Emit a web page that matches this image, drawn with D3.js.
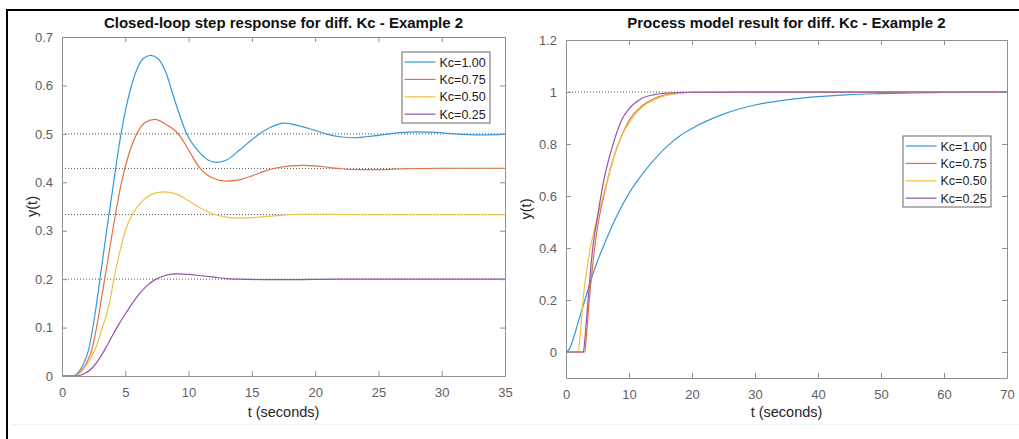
<!DOCTYPE html>
<html>
<head>
<meta charset="utf-8">
<script src="https://cdn.jsdelivr.net/npm/d3@7"></script>
<style>
  html, body { margin: 0; padding: 0; background: #fff; }
  svg { display: block; }
  text { font-family: "Liberation Sans", Arial, Helvetica, sans-serif; }
</style>
</head>
<body>
<svg id="fig" width="1019" height="439"></svg>
<script>
// ---- data -------------------------------------------------------------
const seriesNames = ["Kc=1.00", "Kc=0.75", "Kc=0.50", "Kc=0.25"];
const seriesColors = ["#3797d8", "#e2703f", "#f0c146", "#9651aa"];

// Closed-loop step response, [t, y]
const closedKc100 = [[0,0],[0.8,0],[1.2,0.005],[1.6,0.02],[2.1,0.054],[2.5,0.11],[3.0,0.2],[3.5,0.295],[4.0,0.385],[4.6,0.49],[5.2,0.57],[5.8,0.625],[6.4,0.655],[7.0,0.662],[7.6,0.655],[8.2,0.627],[8.9,0.57],[9.85,0.5],[11,0.458],[11.6,0.445],[12.2,0.441],[13,0.446],[14,0.466],[15,0.488],[16,0.507],[17,0.519],[17.5,0.522],[18.5,0.518],[20,0.507],[21,0.499],[22,0.494],[23,0.492],[24,0.494],[25,0.497],[26.5,0.502],[28,0.504],[29.5,0.503],[31,0.5],[33,0.498],[35,0.499]];
const closedKc075 = [[0,0],[1.0,0],[1.5,0.01],[2.0,0.03],[2.35,0.054],[2.8,0.11],[3.1,0.157],[3.5,0.22],[4.0,0.3],[4.7,0.4],[5.3,0.46],[5.9,0.5],[6.6,0.524],[7.35,0.53],[8.2,0.52],[9.2,0.5],[10,0.467],[10.9,0.429],[11.8,0.41],[13,0.4026],[14,0.405],[15,0.413],[16,0.423],[17,0.43],[18,0.434],[19,0.435],[20,0.434],[21,0.431],[22,0.428],[23.5,0.426],[25,0.426],[27,0.428],[30,0.429],[35,0.429]];
const closedKc050 = [[0,0],[1.0,0],[1.5,0.008],[2.0,0.025],[2.6,0.054],[3.2,0.1],[3.8,0.157],[4.1,0.2],[4.6,0.26],[5.0,0.3],[5.6,0.335],[6.3,0.36],[7.0,0.374],[8.0,0.38],[9,0.376],[10,0.362],[11,0.346],[12,0.334],[13,0.328],[14,0.326],[15,0.327],[16,0.329],[17,0.331],[18,0.333],[19,0.334],[21,0.334],[24,0.333],[35,0.333]];
const closedKc025 = [[0,0],[1.2,0],[1.8,0.005],[2.4,0.017],[3.0,0.038],[3.5,0.06],[4,0.084],[4.5,0.107],[5,0.128],[5.5,0.148],[6,0.166],[6.7,0.186],[7.35,0.199],[8.2,0.208],[9.06,0.211],[10,0.21],[11,0.207],[12,0.204],[13,0.201],[14,0.2],[16,0.199],[18,0.199],[22,0.2],[35,0.2]];
const closedSetpoints = [0.5, 0.4286, 0.3333, 0.2];

// Process model output, [t, y]
const modelKc100 = [[0,0],[0.5,0.01],[1,0.04],[2,0.12],[3,0.2],[4,0.28],[5,0.35],[6,0.41],[8,0.52],[10,0.61],[12,0.68],[14,0.74],[16,0.79],[18,0.83],[20,0.86],[25,0.915],[30,0.95],[35,0.97],[40,0.982],[45,0.99],[50,0.994],[55,0.997],[60,0.998],[70,1.0]];
const modelKc075 = [[0,0],[3.0,0],[3.2,0.05],[3.7,0.2],[4.5,0.39],[5,0.48],[6,0.6],[7,0.7],[8,0.78],[9,0.84],[10,0.89],[12,0.945],[14,0.975],[16,0.99],[18,0.996],[20,0.999],[70,1]];
const modelKc050 = [[0,0],[1.95,0],[2.2,0.05],[2.7,0.2],[3.8,0.39],[5,0.52],[6,0.61],[7,0.7],[8,0.78],[9,0.84],[10,0.88],[12,0.94],[14,0.97],[16,0.988],[18,0.995],[20,0.999],[70,1]];
const modelKc025 = [[0,0],[2.75,0],[3,0.05],[3.5,0.2],[4.2,0.39],[5,0.52],[6,0.66],[7,0.76],[8,0.84],[9,0.9],[10,0.935],[12,0.975],[14,0.99],[16,0.996],[20,0.999],[70,1]];
const modelSetpoints = [1];

// axis ticks
const leftXTicks = [0, 5, 10, 15, 20, 25, 30, 35];
const leftYTicks = [0, 0.1, 0.2, 0.3, 0.4, 0.5, 0.6, 0.7];
const rightXTicks = [0, 10, 20, 30, 40, 50, 60, 70];
const rightYTicks = [0, 0.2, 0.4, 0.6, 0.8, 1, 1.2];

// ---- drawing ----------------------------------------------------------
const svg = d3.select("#fig");

// outer frame
svg.append("line").attr("x1", 7).attr("x2", 1019).attr("y1", 10).attr("y2", 10)
  .attr("stroke", "#000").attr("stroke-width", 2);
svg.append("line").attr("x1", 7).attr("x2", 7).attr("y1", 9).attr("y2", 439)
  .attr("stroke", "#000").attr("stroke-width", 2);
svg.append("line").attr("x1", 12).attr("x2", 1019).attr("y1", 424.5).attr("y2", 424.5)
  .attr("stroke", "#eef1f7").attr("stroke-width", 1);

const axisColor = "#8f8f8f";
const tickTextColor = "#5e5e5e";

function panel(cfg) {
  const g = svg.append("g");
  const x = d3.scaleLinear().domain(cfg.xDomain).range([cfg.left, cfg.right]);
  const y = d3.scaleLinear().domain(cfg.yDomain).range([cfg.bottom, cfg.top]);

  // reference levels
  cfg.setpoints.forEach(v => {
    g.append("line")
      .attr("x1", x(cfg.xDomain[0])).attr("x2", x(cfg.xDomain[1]))
      .attr("y1", y(v)).attr("y2", y(v))
      .attr("stroke", "#555").attr("stroke-width", 1)
      .attr("stroke-dasharray", "1,2");
  });

  // curves
  const line = d3.line().x(d => x(d[0])).y(d => y(d[1])).curve(d3.curveMonotoneX);
  cfg.series.forEach((s, i) => {
    g.append("path").datum(s)
      .attr("fill", "none")
      .attr("stroke", seriesColors[i])
      .attr("stroke-width", 1.2)
      .attr("d", line);
  });

  // axes (ticks pointing inward, box on)
  const tk = 5;
  const styleAxis = (sel) => {
    sel.select(".domain").attr("stroke", axisColor);
    sel.selectAll(".tick line").attr("stroke", axisColor);
    sel.selectAll(".tick text").attr("fill", tickTextColor)
      .style("font-size", "13px")
      .style("font-family", '"Liberation Sans", Arial, sans-serif');
  };
  const fmtX = d3.format("d");
  g.append("g").attr("transform", `translate(0,${cfg.bottom})`)
    .call(d3.axisBottom(x).tickValues(cfg.xTicks).tickFormat(fmtX)
      .tickSizeInner(-tk).tickSizeOuter(0).tickPadding(12))
    .call(styleAxis);
  g.append("g").attr("transform", `translate(0,${cfg.top})`)
    .call(d3.axisTop(x).tickValues(cfg.xTicks).tickFormat("")
      .tickSizeInner(-tk).tickSizeOuter(0))
    .call(styleAxis);
  g.append("g").attr("transform", `translate(${cfg.left},0)`)
    .call(d3.axisLeft(y).tickValues(cfg.yTicks).tickFormat(cfg.yFormat)
      .tickSizeInner(-tk).tickSizeOuter(0).tickPadding(9))
    .call(styleAxis);
  g.append("g").attr("transform", `translate(${cfg.right},0)`)
    .call(d3.axisRight(y).tickValues(cfg.yTicks).tickFormat("")
      .tickSizeInner(-tk).tickSizeOuter(0))
    .call(styleAxis);

  // titles and labels
  g.append("text")
    .attr("x", (cfg.left + cfg.right) / 2).attr("y", 28)
    .attr("text-anchor", "middle")
    .style("font-size", "15px").style("font-weight", "bold").attr("fill", "#111")
    .text(cfg.title);
  g.append("text")
    .attr("x", (cfg.left + cfg.right) / 2).attr("y", 417)
    .attr("text-anchor", "middle")
    .style("font-size", "14.5px").attr("fill", "#262626")
    .text("t (seconds)");
  g.append("text")
    .attr("transform", `translate(${cfg.ylabelX},${(cfg.top + cfg.bottom) / 2}) rotate(-90)`)
    .attr("text-anchor", "middle")
    .style("font-size", "14.5px").attr("fill", "#262626")
    .text("y(t)");

  // legend
  const lg = g.append("g").attr("transform", `translate(${cfg.legend[0]},${cfg.legend[1]})`);
  lg.append("rect").attr("x", 0.5).attr("y", 0.5).attr("width", 88).attr("height", 71)
    .attr("fill", "#fff").attr("stroke", "#666").attr("stroke-width", 1);
  seriesNames.forEach((name, i) => {
    const yy = 10.5 + i * 17.4;
    lg.append("line").attr("x1", 3).attr("x2", 34).attr("y1", yy).attr("y2", yy)
      .attr("stroke", seriesColors[i]).attr("stroke-width", 1.2);
    lg.append("text").attr("x", 38).attr("y", yy + 4.5)
      .style("font-size", "12.5px").attr("fill", "#222")
      .text(name);
  });
}

panel({
  left: 62, right: 505, top: 37, bottom: 376,
  xDomain: [0, 35], yDomain: [0, 0.7],
  xTicks: leftXTicks, yTicks: leftYTicks,
  yFormat: d => (d === 0 ? "0" : d3.format(".1f")(d)),
  series: [closedKc100, closedKc075, closedKc050, closedKc025],
  setpoints: closedSetpoints,
  title: "Closed-loop step response for diff. Kc - Example 2",
  ylabelX: 37,
  legend: [401.5, 51.5]
});

panel({
  left: 566, right: 1007, top: 40, bottom: 378,
  xDomain: [0, 70], yDomain: [-0.1, 1.2],
  xTicks: rightXTicks, yTicks: rightYTicks,
  yFormat: d => (d === 0 ? "0" : d === 1 ? "1" : d3.format(".1f")(d)),
  series: [modelKc100, modelKc075, modelKc050, modelKc025],
  setpoints: modelSetpoints,
  title: "Process model result for diff. Kc - Example 2",
  ylabelX: 531,
  legend: [902.5, 135.5]
});
</script>
</body>
</html>
